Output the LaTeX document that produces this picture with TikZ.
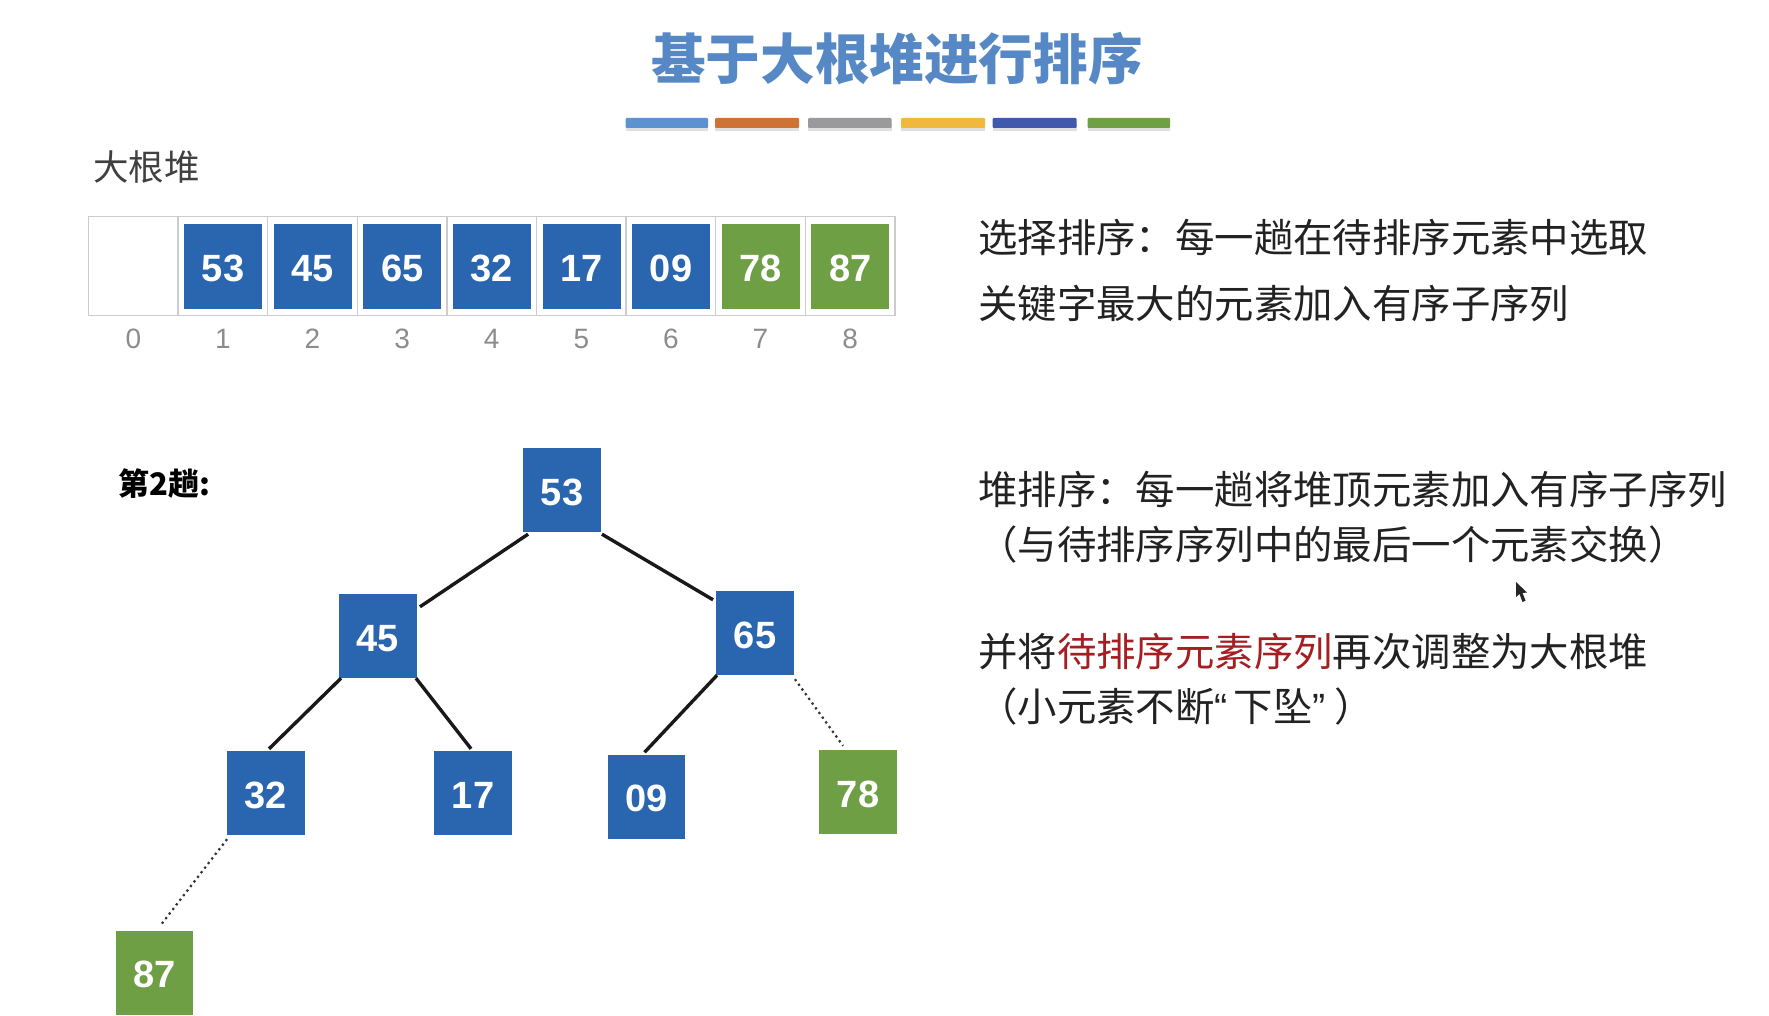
\documentclass[tikz,border=0pt]{standalone}
\usepackage{fontspec}
\setmainfont{Liberation Sans}
\newfontfamily\cjk{Noto Sans CJK SC}
\newfontfamily\lat{Liberation Sans}
\usetikzlibrary{calc}
\definecolor{boxblue}{HTML}{2A65AF}
\definecolor{boxgreen}{HTML}{6F9F45}
\definecolor{titleblue}{HTML}{5588C4}
\definecolor{redtext}{HTML}{A51E22}
\definecolor{txt}{HTML}{222222}
\definecolor{idxgray}{HTML}{8C8C8C}
\definecolor{cellline}{HTML}{CCCCCC}
\tikzset{
  x=1pt,y=-1pt,
  cellbox/.style={draw=cellline,line width=1.3pt,fill=white,minimum width=89.6pt,minimum height=99pt,inner sep=0pt},
  valbox/.style={minimum width=77.5pt,minimum height=84pt,inner sep=0pt,text=white,text height=30pt,text depth=0pt,font=\bfseries\fontsize{38}{38}\selectfont},
  bluebox/.style={valbox,fill=boxblue},
  greenbox/.style={valbox,fill=boxgreen},
  idxlabel/.style={inner sep=0pt,text=idxgray,font=\fontsize{28}{28}\selectfont},
  bodytext/.style={anchor=west,inner sep=0pt,text=txt,font=\cjk\fontsize{39.4}{39.4}\selectfont},
  edgeline/.style={line width=3.4pt,draw=black!90},
  dotline/.style={line width=2.2pt,dash pattern=on 2.2pt off 3.6pt,draw=black!80},
  barbar/.style={minimum height=10pt,inner sep=0pt,rounded corners=1pt},
}
\begin{document}
\begin{tikzpicture}
\useasboundingbox (0,0) rectangle (1769,1016);
\fill[white] (0,0) rectangle (1769,1016);
% title
\node[inner sep=0pt,text=titleblue,font=\cjk\bfseries\fontsize{54.6}{54.6}\selectfont] (title) at (897,59) {基于大根堆进行排序};
% bars
\foreach \nm/\a/\b/\c in {b1/625.5/708/5B92CF,b2/715/799/CF7236,b3/808/891.5/9A9A9C,b4/901/985/F0B83C,b5/992.5/1076.5/4059AC,b6/1087.5/1170/6FA043}{
  \definecolor{barc}{HTML}{\c}
  \fill[black!12] (\a,124) rectangle (\b,131);
  \node[barbar,fill=barc,minimum width={\b pt-\a pt}] (\nm) at ({(\a+\b)/2},123) {};
}
% heading
\node[anchor=west,inner sep=0pt,text=black!75,font=\cjk\fontsize{35.5}{35.5}\selectfont] (heap) at (93,167) {大根堆};
% array
\foreach \i in {0,...,8}{
  \node[cellbox] (c\i) at ({133.3+89.6*\i},266) {};
  \node[idxlabel] (i\i) at ({133.3+89.6*\i},339) {\i};
}
\foreach \i/\v/\s in {1/53/bluebox,2/45/bluebox,3/65/bluebox,4/32/bluebox,5/17/bluebox,6/09/bluebox,7/78/greenbox,8/87/greenbox}{
  \node[\s,minimum width=78pt,minimum height=85pt] (a\i) at ({133.5+89.6*\i},266.5) {\v};
}
% tree
\node[anchor=west,inner sep=0pt,text=black,font=\cjk\bfseries\fontsize{31}{31}\selectfont] (round) at (118,484) {第2趟:};
\node[bluebox] (n53) at (562,490) {53};
\node[bluebox] (n45) at (378,636) {45};
\node[bluebox] (n65) at (755,633) {65};
\node[bluebox] (n32) at (266,793) {32};
\node[bluebox] (n17) at (473,793) {17};
\node[bluebox] (n09) at (646.5,796.5) {09};
\node[greenbox] (n78) at (858,792) {78};
\node[greenbox] (n87) at (154.5,972.5) {87};
\draw[edgeline] ([xshift=5pt,yshift=-2pt]n53.south west) -- ([xshift=3pt,yshift=-13pt]n45.north east);
\draw[edgeline] ([xshift=1pt,yshift=-2pt]n53.south east) -- ([xshift=-3pt,yshift=-9pt]n65.north west);
\draw[edgeline] ([xshift=2pt]n45.south west) -- ([xshift=42pt,yshift=2pt]n32.north west);
\draw[edgeline] ([xshift=-1pt]n45.south east) -- ([xshift=37pt,yshift=2pt]n17.north west);
\draw[edgeline] ([xshift=1pt]n65.south west) -- ([xshift=37pt,yshift=2pt]n09.north west);
\draw[dotline] ([xshift=1pt,yshift=-4pt]n65.south east) -- ([xshift=24pt,yshift=4pt]n78.north west);
\draw[dotline] ([yshift=-4pt]n32.south west) -- ([xshift=45pt,yshift=5pt]n87.north west);
% right text
\node[bodytext] (t1) at (978,237) {选择排序^^^^ff1a每一趟在待排序元素中选取};
\node[bodytext] (t2) at (978,303.5) {关键字最大的元素加入有序子序列};
\node[bodytext] (t3) at (978,490) {堆排序^^^^ff1a每一趟将堆顶元素加入有序子序列};
\node[bodytext] (t4) at (978,545) {^^^^ff08与待排序序列中的最后一个元素交换^^^^ff09};
\node[bodytext] (t5) at (978,652) {并将{\color{redtext}待排序元素序列}再次调整为大根堆};
\node[bodytext] (t6) at (978,707) {^^^^ff08小元素不断{\lat “}\kern6pt 下坠{\lat ”}\kern9pt ^^^^ff09};
% cursor
\fill[black!85] (1516,582) -- (1516,597) -- (1519.5,594) -- (1522.5,602) -- (1525.5,600.5) -- (1522.5,593) -- (1527,592.5) -- cycle;
\end{tikzpicture}
\end{document}
